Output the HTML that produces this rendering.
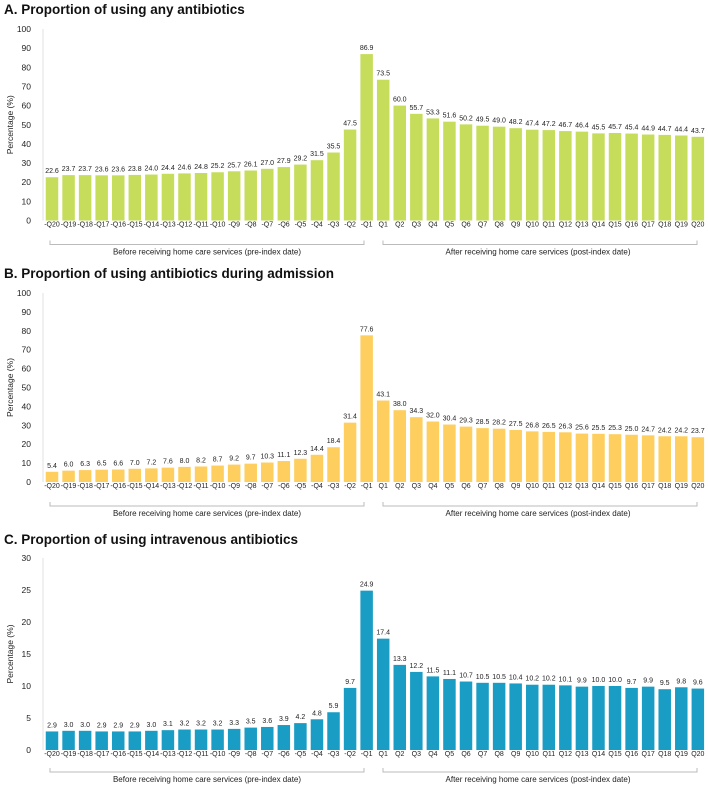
<!DOCTYPE html>
<html><head><meta charset="utf-8">
<style>
html,body{margin:0;padding:0;background:#fff;}
body{width:708px;height:789px;overflow:hidden;font-family:"Liberation Sans",sans-serif;}
svg text{font-family:"Liberation Sans",sans-serif;}
</style></head>
<body>
<svg id="chart" width="708" height="789" xmlns="http://www.w3.org/2000/svg"></svg>
<script>
const categories = ["-Q20","-Q19","-Q18","-Q17","-Q16","-Q15","-Q14","-Q13","-Q12","-Q11","-Q10","-Q9","-Q8","-Q7","-Q6","-Q5","-Q4","-Q3","-Q2","-Q1","Q1","Q2","Q3","Q4","Q5","Q6","Q7","Q8","Q9","Q10","Q11","Q12","Q13","Q14","Q15","Q16","Q17","Q18","Q19","Q20"];
const valuesA = [22.6,23.7,23.7,23.6,23.6,23.8,24.0,24.4,24.6,24.8,25.2,25.7,26.1,27.0,27.9,29.2,31.5,35.5,47.5,86.9,73.5,60.0,55.7,53.3,51.6,50.2,49.5,49.0,48.2,47.4,47.2,46.7,46.4,45.5,45.7,45.4,44.9,44.7,44.4,43.7];
const valuesB = [5.4,6.0,6.3,6.5,6.6,7.0,7.2,7.6,8.0,8.2,8.7,9.2,9.7,10.3,11.1,12.3,14.4,18.4,31.4,77.6,43.1,38.0,34.3,32.0,30.4,29.3,28.5,28.2,27.5,26.8,26.5,26.3,25.6,25.5,25.3,25.0,24.7,24.2,24.2,23.7];
const valuesC = [2.9,3.0,3.0,2.9,2.9,2.9,3.0,3.1,3.2,3.2,3.2,3.3,3.5,3.6,3.9,4.2,4.8,5.9,9.7,24.9,17.4,13.3,12.2,11.5,11.1,10.7,10.5,10.5,10.4,10.2,10.2,10.1,9.9,10.0,10.0,9.7,9.9,9.5,9.8,9.6];
const ticksAB = [0,10,20,30,40,50,60,70,80,90,100];
const ticksC = [0,5,10,15,20,25,30];
const titles = ["A. Proportion of using any antibiotics","B. Proportion of using antibiotics during admission","C. Proportion of using intravenous antibiotics"];

const svg = document.getElementById('chart');
const NS = "http://www.w3.org/2000/svg";
function mk(tag, attrs, text){
  const e = document.createElementNS(NS, tag);
  for (const k in attrs) e.setAttribute(k, attrs[k]);
  if (text !== undefined) e.textContent = text;
  svg.appendChild(e);
  return e;
}
const x0 = 52, step = 16.56, bw = 12.5;
function xPos(i){ return x0 + i*step; }

const panels = [
  {key:'a', vals:valuesA, ticks:ticksAB, max:100, titleY:14, top:29, zero:220.5, color:'#c6dd5c'},
  {key:'b', vals:valuesB, ticks:ticksAB, max:100, titleY:278, top:293, zero:482, color:'#fecf5f'},
  {key:'c', vals:valuesC, ticks:ticksC, max:30, titleY:544, top:558, zero:750, color:'#1a9dc5'}
];

panels.forEach((p, pi) => {
  const yPos = v => p.zero - (v/p.max)*(p.zero - p.top);
  let t = mk('text',{x:4,y:p.titleY,'font-size':'13.5','font-weight':'bold',fill:'#111'},titles[pi]);
  
  
  let ax = mk('line',{x1:43,y1:p.top,x2:43,y2:p.zero,stroke:'#e2e2e2','stroke-width':1});
  
  
  p.ticks.forEach(tv => {
    let tl = mk('text',{x:31,y:yPos(tv)+3,'font-size':'8.5','text-anchor':'end',fill:'#222'},String(tv));
    
    
  });
  const my = (p.top + p.zero)/2;
  let yt = mk('text',{x:13,y:my,'font-size':'8.5','text-anchor':'middle',fill:'#222',transform:'rotate(-90 13 '+my+')'},'Percentage (%)');
  
  
  p.vals.forEach((v,i) => {
    const cx = xPos(i), yt2 = yPos(v);
    let r = mk('rect',{x:cx-bw/2,y:yt2,width:bw,height:p.zero-yt2,fill:p.color});
    
    
    let vl = mk('text',{x:cx,y:yt2-4,'font-size':'7','text-anchor':'middle',fill:'#222'},v.toFixed(1));
    
    
    let cl = mk('text',{x:cx,y:p.zero+6,'font-size':'7','text-anchor':'middle',fill:'#222'},categories[i]);
    
    
  });
  const by = p.zero + (pi===2 ? 22 : 24);
  const b1 = mk('path',{d:'M50 '+(by-4)+' V'+by+' H364 V'+(by-4),fill:'none',stroke:'#bbb','stroke-width':1});
  
  
  const b2 = mk('path',{d:'M383 '+(by-4)+' V'+by+' H697 V'+(by-4),fill:'none',stroke:'#bbb','stroke-width':1});
  
  
  let l1 = mk('text',{x:207,y:by+10,'font-size':'8','text-anchor':'middle',fill:'#222'},'Before receiving home care services (pre-index date)');
  
  
  let l2 = mk('text',{x:538,y:by+10,'font-size':'8','text-anchor':'middle',fill:'#222'},'After receiving home care services  (post-index date)');
  
  
});
</script>
</body></html>
